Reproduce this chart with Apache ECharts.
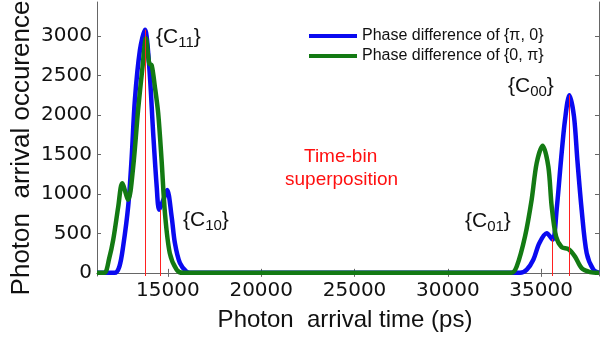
<!DOCTYPE html>
<html>
<head>
<meta charset="utf-8">
<script src="https://cdn.jsdelivr.net/npm/echarts@6/dist/echarts.min.js"></script>
<style>
  html, body { margin: 0; padding: 0; background: #fff; }
  #chart { width: 611px; height: 339px; }
</style>
</head>
<body>
<div id="chart"></div>
<script>
// arrival time (ps) and counts
const timeBlue = [11200, 12150, 12400, 12600, 12870, 13050, 13230, 13500, 13770, 14000, 14210, 14400, 14530, 14750, 14960, 15200, 15375, 15640, 16000, 16300,
  33500, 33870, 34230, 34580, 34900, 35300, 35620, 35830, 36065, 36280, 36510, 36760, 36940, 37170, 37440, 37800, 38100];
const countBlue = [0, 0, 80, 333, 840, 1430, 2190, 2820, 3080, 2610, 1770, 1090, 800, 920, 1050, 710, 375, 125, 15, 0,
  0, 0, 40, 165, 375, 500, 420, 800, 1430, 1940, 2250, 1980, 1430, 800, 250, 40, 0];

const timeGreen = [11200, 11600, 11850, 12070, 12340, 12550, 12870, 13140, 13400, 13640, 13820, 14000, 14130, 14300, 14480, 14660, 14840, 15100, 15470, 15800,
  33400, 33690, 34135, 34490, 34760, 35080, 35385, 35565, 35800, 36100, 36460, 36815, 37170, 37620, 38100];
const countGreen = [0, 0, 180, 420, 840, 1135, 925, 1345, 2060, 2610, 2970, 2650, 2630, 2360, 2020, 1430, 760, 250, 40, 0,
  0, 80, 460, 925, 1390, 1610, 1345, 840, 460, 325, 300, 205, 60, 10, 0];

// red marker lines
const markTimes = [13770, 14600, 35600, 36510];
const markTops = [3080, 800, 430, 2250];

const xTicks = [15000, 20000, 25000, 30000, 35000];
const yTicks = [0, 500, 1000, 1500, 2000, 2500, 3000];
const xMin = 11200, xMax = 38100, yMin = -40, yMax = 3430;

const pairs = (xs, ys) => xs.map((x, i) => [x, ys[i]]);

const chart = echarts.init(document.getElementById('chart'));

const tickFont = { fontFamily: 'DejaVu Sans', fontSize: 20, color: '#111', formatter: v => String(v) };
const frameLine = { show: true, lineStyle: { color: '#666', width: 1 } };
const sub = { s: { fontSize: 15, fontFamily: 'Liberation Sans', padding: [10, 0, 0, 0] } };

chart.setOption({
  animation: false,
  grid: { left: 97, right: 12, top: 2, bottom: 63, containLabel: false, outerBoundsMode: 'none' },
  legend: {
    orient: 'vertical',
    left: 304, top: 23,
    icon: 'rect',
    itemWidth: 48, itemHeight: 4, itemGap: 4,
    textStyle: { fontFamily: 'Liberation Sans', fontSize: 16, color: '#111' },
    data: ['Phase difference of {π, 0}', 'Phase difference of {0, π}']
  },
  xAxis: [{
    type: 'value', min: xMin, max: xMax,
    axisLine: frameLine,
    axisTick: { inside: true, length: 4, customValues: xTicks, lineStyle: { color: '#666' } },
    axisLabel: Object.assign({ customValues: xTicks, margin: 5 }, tickFont),
    splitLine: { show: false },
    name: 'Photon  arrival time (ps)', nameLocation: 'middle', nameGap: 32, nameMoveOverlap: false,
    nameTextStyle: { fontFamily: 'Liberation Sans', fontSize: 24, color: '#111', padding: [0, 0, 0, -6] }
  }, {
    type: 'value', position: 'top', min: xMin, max: xMax,
    axisLine: frameLine,
    axisTick: { inside: true, length: 4, customValues: xTicks, lineStyle: { color: '#666' } },
    axisLabel: { show: false }, splitLine: { show: false }
  }],
  yAxis: [{
    type: 'value', min: yMin, max: yMax,
    axisLine: frameLine,
    axisTick: { inside: true, length: 4, customValues: yTicks, lineStyle: { color: '#666' } },
    axisLabel: Object.assign({ customValues: yTicks, margin: 5 }, tickFont),
    splitLine: { show: false },
    name: 'Photon  arrival occurence', nameLocation: 'middle', nameGap: 62, nameMoveOverlap: false,
    nameTextStyle: { fontFamily: 'Liberation Sans', fontSize: 26, color: '#111', padding: [0, 0, 0, -18] }
  }, {
    type: 'value', position: 'right', min: yMin, max: yMax,
    axisLine: frameLine,
    axisTick: { inside: true, length: 4, customValues: yTicks, lineStyle: { color: '#666' } },
    axisLabel: { show: false }, splitLine: { show: false }
  }],
  series: [{
    name: 'Phase difference of {π, 0}',
    type: 'line', smooth: 0.3, showSymbol: false,
    data: pairs(timeBlue, countBlue),
    itemStyle: { color: '#0a0af0' },
    lineStyle: { width: 4.5, color: '#0a0af0' }
  }, {
    name: 'Phase difference of {0, π}',
    type: 'line', smooth: 0.3, showSymbol: false,
    data: pairs(timeGreen, countGreen),
    itemStyle: { color: '#137a13' },
    lineStyle: { width: 4.5, color: '#137a13' }
  }, {
    name: 'marks',
    type: 'line', data: [], z: 5,
    markLine: {
      silent: true, symbol: 'none', label: { show: false },
      lineStyle: { color: '#ff2020', width: 1, type: 'solid' },
      data: markTimes.map((t, i) => [{ coord: [t, yMin] }, { coord: [t, markTops[i]] }])
    }
  }],
  graphic: [
    { type: 'text', left: 156, top: 27, style: { text: '{C{s|11}}', font: '21px Liberation Sans', fill: '#111', rich: sub } },
    { type: 'text', left: 183, top: 210, style: { text: '{C{s|10}}', font: '21px Liberation Sans', fill: '#111', rich: sub } },
    { type: 'text', left: 465, top: 211, style: { text: '{C{s|01}}', font: '21px Liberation Sans', fill: '#111', rich: sub } },
    { type: 'text', left: 508, top: 76, style: { text: '{C{s|00}}', font: '21px Liberation Sans', fill: '#111', rich: sub } },
    { type: 'text', left: 304, top: 147, style: { text: 'Time-bin', font: '19px Liberation Sans', fill: '#ff1010' } },
    { type: 'text', left: 285, top: 170, style: { text: 'superposition', font: '19px Liberation Sans', fill: '#ff1010' } }
  ]
});
</script>
</body>
</html>
